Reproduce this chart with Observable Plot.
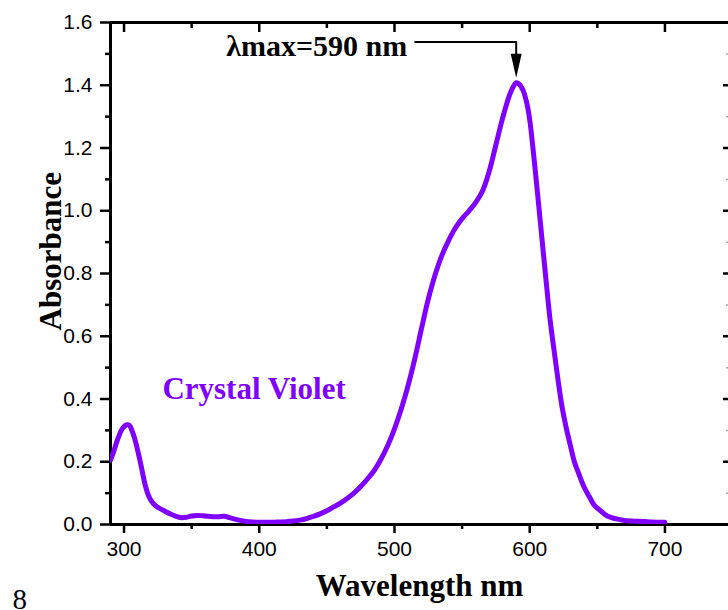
<!DOCTYPE html>
<html>
<head>
<meta charset="utf-8">
<script src="https://cdn.jsdelivr.net/npm/d3@7"></script>
<script src="https://cdn.jsdelivr.net/npm/@observablehq/plot@0.6"></script>
<style>
  html, body { margin: 0; padding: 0; background: #fff; }
  #chart { width: 728px; height: 610px; overflow: hidden; }
</style>
</head>
<body>
<div id="chart"></div>
<script>
// ---- data ----
const wavelength = [290,292,295,298,300,302,304,306,308,310,312,314,316,318,320,323,326,330,334,338,342,346,350,354,358,362,366,370,374,378,382,386,390,395,400,405,410,415,420,425,430,435,440,445,450,455,460,465,470,475,480,485,490,495,500,505,510,515,520,525,530,535,540,545,550,555,560,565,570,575,580,585,588,590,592,595,598,600,603,606,609,612,615,618,621,624,627,630,633,636,640,644,648,652,656,660,665,670,680,690,700];
const absorbance = [0.205,0.228,0.268,0.300,0.312,0.318,0.316,0.298,0.272,0.238,0.200,0.158,0.120,0.093,0.076,0.061,0.052,0.043,0.034,0.027,0.022,0.023,0.027,0.029,0.028,0.026,0.025,0.025,0.026,0.022,0.017,0.013,0.010,0.008,0.007,0.007,0.007,0.008,0.009,0.011,0.014,0.019,0.026,0.034,0.044,0.056,0.068,0.083,0.100,0.121,0.145,0.172,0.208,0.252,0.305,0.368,0.442,0.528,0.625,0.718,0.795,0.857,0.905,0.945,0.975,0.999,1.026,1.062,1.125,1.210,1.296,1.368,1.397,1.408,1.405,1.385,1.340,1.290,1.175,1.046,0.913,0.782,0.655,0.555,0.459,0.373,0.308,0.253,0.200,0.165,0.121,0.089,0.060,0.045,0.031,0.023,0.017,0.013,0.010,0.008,0.007];

const xDomain = [290, 747];
const yDomain = [0, 1.6];
const xMajorTicks = [300, 400, 500, 600, 700];
const xMinorTicks = [350, 450, 550, 650];
const yMajorTicks = [0, 0.2, 0.4, 0.6, 0.8, 1.0, 1.2, 1.4, 1.6];
const yMinorTicks = [0.1, 0.3, 0.5, 0.7, 0.9, 1.1, 1.3, 1.5];

const xTitle = "Wavelength nm";
const yTitle = "Absorbance";
const seriesName = "Crystal Violet";
const seriesLabelPos = [{x: 464, y: 0.432}];
const peakLabel = "λmax=590 nm";
const arrowPath = [{x: 515.3, y: 1.538}, {x: 590, y: 1.538}, {x: 590, y: 1.49}];
const arrowTip = [{x: 590, y: 1.424}];
const strayText = "8";

const spectrum = wavelength.map((w, i) => ({w, a: absorbance[i]}));

const violet = "#7f00ff";
const serif = "'Liberation Serif', 'Times New Roman', serif";
const sans = "'Liberation Sans', Arial, sans-serif";

const arrowHead = {
  draw(context) {
    context.moveTo(-5.5, -24);
    context.lineTo(5.5, -24);
    context.lineTo(0, 0);
    context.closePath();
  }
};

const blank = () => "";

const chart = Plot.plot({
  width: 728,
  height: 610,
  marginLeft: 110,
  marginRight: 0,
  marginTop: 22,
  marginBottom: 86,
  style: {background: "white", color: "black", fontFamily: sans, overflow: "visible"},
  x: {domain: xDomain},
  y: {domain: yDomain},
  marks: [
    // bottom axis
    Plot.axisX({anchor: "bottom", ticks: xMajorTicks, tickSize: 9, tickPadding: 8, strokeWidth: 2.5, fontSize: 21, label: null, tickFormat: d => String(d)}),
    Plot.axisX({anchor: "bottom", ticks: xMinorTicks, tickSize: 5, strokeWidth: 2.5, label: null, tickFormat: blank}),
    // top axis (inward ticks)
    Plot.axisX({anchor: "top", ticks: xMajorTicks, tickSize: -9, strokeWidth: 2.5, label: null, tickFormat: blank}),
    Plot.axisX({anchor: "top", ticks: xMinorTicks, tickSize: -5, strokeWidth: 2.5, label: null, tickFormat: blank}),
    // left axis
    Plot.axisY({anchor: "left", ticks: yMajorTicks, tickSize: 10, tickPadding: 8, strokeWidth: 2.5, fontSize: 21, label: null, tickFormat: d => d.toFixed(1)}),
    Plot.axisY({anchor: "left", ticks: yMinorTicks, tickSize: 5, strokeWidth: 2.5, label: null, tickFormat: blank}),
    // right axis (inward ticks, at the cropped edge)
    Plot.axisY({anchor: "right", ticks: yMajorTicks, tickSize: -6, strokeWidth: 2.5, label: null, tickFormat: blank}),
    Plot.axisY({anchor: "right", ticks: yMinorTicks, tickSize: -3, strokeWidth: 1.5, stroke: "#aaa", label: null, tickFormat: blank}),
    // frame lines
    Plot.ruleX([xDomain[0]], {strokeWidth: 3}),
    Plot.ruleY(yDomain, {strokeWidth: 3}),
    // spectrum
    Plot.line(spectrum, {x: "w", y: "a", stroke: violet, strokeWidth: 5, curve: "catmull-rom", clip: true}),
    // series label
    Plot.text(seriesLabelPos, {x: "x", y: "y", text: () => seriesName, fill: violet, fontFamily: serif, fontWeight: "bold", fontSize: 31, textAnchor: "end"}),
    // peak annotation
    Plot.line(arrowPath, {x: "x", y: "y", stroke: "black", strokeWidth: 2, curve: "linear"}),
    Plot.dot(arrowTip, {x: "x", y: "y", symbol: arrowHead, fill: "black", stroke: "none"}),
    Plot.text([arrowPath[0]], {x: "x", y: "y", text: () => peakLabel, fontFamily: serif, fontWeight: "bold", fontSize: 30, textAnchor: "end", dx: -8, dy: 4}),
    // axis titles
    Plot.text([yTitle], {text: d => d, frameAnchor: "left", rotate: -90, dx: -59, dy: 57, fontFamily: serif, fontWeight: "bold", fontSize: 31}),
    Plot.text([xTitle], {text: d => d, frameAnchor: "bottom", dy: 71, fontFamily: serif, fontWeight: "bold", fontSize: 31}),
    // stray figure number at bottom-left
    Plot.text([strayText], {text: d => d, frameAnchor: "bottom-left", textAnchor: "start", dx: -98, dy: 84, fontFamily: serif, fontSize: 29})
  ]
});

document.getElementById("chart").appendChild(chart);
</script>
</body>
</html>
